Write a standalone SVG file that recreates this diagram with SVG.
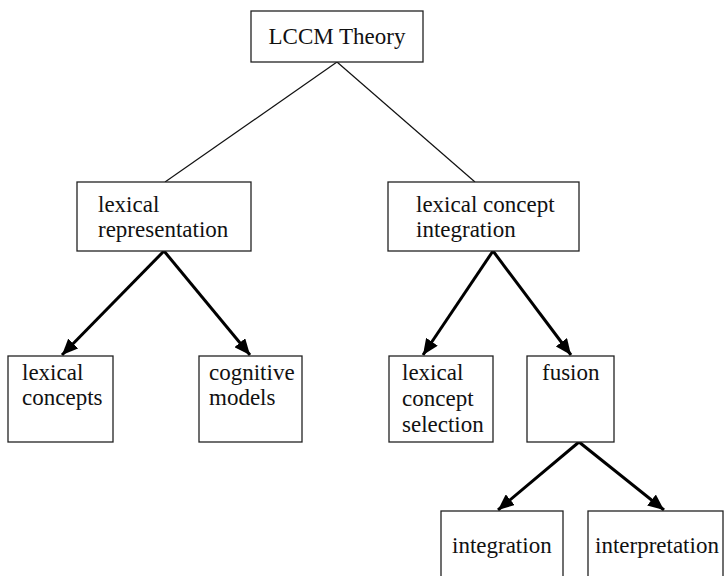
<svg xmlns="http://www.w3.org/2000/svg" width="725" height="576" viewBox="0 0 725 576">
<style>
.box{fill:#fff;stroke:#222;stroke-width:1.3}
.t{font-family:"Liberation Serif","Times New Roman",serif;font-size:23px;fill:#111}
.thin{stroke:#111;stroke-width:1.2;fill:none}
.arr{stroke:#000;stroke-width:3;fill:none;marker-end:url(#ah)}
</style>
<defs>
<marker id="ah" markerUnits="userSpaceOnUse" markerWidth="18" markerHeight="14" refX="16" refY="7" orient="auto">
<path d="M0,0 L16,7 L0,14 Z" fill="#000"/>
</marker>
</defs>
<g id="connectors">
<line class="thin" x1="337" y1="62" x2="165" y2="182"/>
<line class="thin" x1="337" y1="62" x2="475" y2="182"/>
<line class="arr" x1="164" y1="251" x2="62" y2="355"/>
<line class="arr" x1="164" y1="251" x2="250" y2="355"/>
<line class="arr" x1="493" y1="251" x2="423" y2="355"/>
<line class="arr" x1="493" y1="251" x2="571" y2="355"/>
<line class="arr" x1="579" y1="442" x2="498" y2="510"/>
<line class="arr" x1="579" y1="442" x2="664" y2="510"/>
</g>
<g id="lccm"><rect class="box" x="251" y="11" width="172" height="51"/><text class="t" x="337" y="44" text-anchor="middle">LCCM Theory</text></g>
<g id="lexrep"><rect class="box" x="77" y="182" width="174" height="69"/><text class="t" x="98" y="212">lexical</text><text class="t" x="98" y="237">representation</text></g>
<g id="lci"><rect class="box" x="388" y="182" width="191" height="69"/><text class="t" x="416" y="212">lexical concept</text><text class="t" x="416" y="237">integration</text></g>
<g id="lexcon"><rect class="box" x="8" y="356" width="105" height="86"/><text class="t" x="22" y="380">lexical</text><text class="t" x="22" y="405">concepts</text></g>
<g id="cogmod"><rect class="box" x="199" y="356" width="103" height="86"/><text class="t" x="209" y="380">cognitive</text><text class="t" x="209" y="405">models</text></g>
<g id="lcs"><rect class="box" x="389" y="356" width="104" height="86"/><text class="t" x="402" y="380">lexical</text><text class="t" x="402" y="406">concept</text><text class="t" x="402" y="432">selection</text></g>
<g id="fusion"><rect class="box" x="527" y="356" width="87" height="86"/><text class="t" x="542" y="380">fusion</text></g>
<g id="integration"><rect class="box" x="441" y="511" width="122" height="70"/><text class="t" x="452" y="553">integration</text></g>
<g id="interpretation"><rect class="box" x="588" y="511" width="135" height="70"/><text class="t" x="595" y="553">interpretation</text></g>
</svg>
